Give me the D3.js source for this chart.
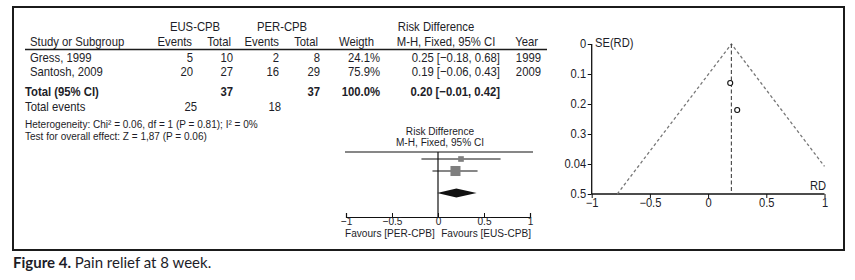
<!DOCTYPE html>
<meta charset="utf-8">
<script src="https://d3js.org/d3.v7.min.js"></script>
<style>
  body { margin: 0; background: #fff; }
  text { font-family: "Liberation Sans", Arial, sans-serif; fill: #1d1d28; }
  .caption { font-family: Lato, "Open Sans", sans-serif; }
</style>
<div class="canvas"></div>
<script>

    // study data
    const studies = ["Gress, 1999", "Santosh, 2009"]
    const eusEvents = [5, 20]
    const eusTotal = [10, 27]
    const perEvents = [2, 16]
    const perTotal = [8, 29]
    const weights = [24.1, 75.9]
    const rd = [0.25, 0.19]
    const ciLow = [-0.18, -0.06]
    const ciHigh = [0.68, 0.43]
    const years = [1999, 2009]
    const seRD = [0.22, 0.13]

    // pooled result
    const pooled = [0.20, -0.01, 0.42]
    const totals = ["37", "37", "100.0%"]
    const totalEvents = [25, 18]

    const forestTicks = [-1, -0.5, 0, 0.5, 1]
    const funnelXTicks = [-1, -0.5, 0, 0.5, 1]
    const funnelYTicks = [0, 0.1, 0.2, 0.3, 0.4, 0.5]
    const funnelYLabels = ["0", "0.1", "0.2", "0.3", "0.04", "0.5"]

    const width = 855
    const height = 280

    const svg = d3.select(".canvas")
                .append("svg")
                .attr("width", width)
                .attr("height", height)

    // frame
    svg.append("rect")
        .attr("x", 13).attr("y", 7)
        .attr("width", 831).attr("height", 243)
        .attr("fill", "none")
        .attr("stroke", "#1b1b1b")
        .attr("stroke-width", 2)

    // text is squeezed a bit to get the narrow look of the original
    const txt = (g, x, y, s, anchor, size, sx, weight = "normal") =>
        g.append("text")
            .attr("transform", `translate(${x},${y}) scale(${sx},1)`)
            .attr("text-anchor", anchor)
            .attr("font-weight", weight)
            .style("font-size", size + "px")
            .text(s)

    const table = svg.append("g")
    const T = (x, y, s, anchor = "start", weight = "normal") => txt(table, x, y, s, anchor, 13, 0.87, weight)

    // headers
    T(195, 31, "EUS-CPB", "middle")
    T(282, 31, "PER-CPB", "middle")
    T(436, 31, "Risk Difference", "middle")
    T(30, 46, "Study or Subgroup")
    T(192, 46, "Events", "end")
    T(231, 46, "Total", "end")
    T(279, 46, "Events", "end")
    T(318, 46, "Total", "end")
    T(374, 46, "Weigth", "end")
    T(446, 46, "M-H, Fixed, 95% CI", "middle")
    T(538, 46, "Year", "end")

    table.append("line")
        .attr("x1", 25).attr("x2", 547)
        .attr("y1", 49.5).attr("y2", 49.5)
        .attr("stroke", "#1b1b1b")
        .attr("stroke-width", 1.3)

    const rowY = d3.scalePoint().domain(studies).range([62, 76])
    const f2 = d3.format(".2f")

    studies.forEach((s, i) => {
        const y = rowY(s)
        T(30, y, s)
        T(193, y, eusEvents[i], "end")
        T(233, y, eusTotal[i], "end")
        T(279, y, perEvents[i], "end")
        T(320, y, perTotal[i], "end")
        T(380, y, weights[i].toFixed(1) + "%", "end")
        T(500, y, `${f2(rd[i])} [${f2(ciLow[i])}, ${f2(ciHigh[i])}]`, "end")
        T(541, y, years[i], "end")
    })

    T(25, 96, "Total (95% CI)", "start", "bold")
    T(233, 96, totals[0], "end", "bold")
    T(320, 96, totals[1], "end", "bold")
    T(380, 96, totals[2], "end", "bold")
    T(500, 96, `${f2(pooled[0])} [${f2(pooled[1])}, ${f2(pooled[2])}]`, "end", "bold")
    T(25, 111, "Total events")
    T(197, 111, totalEvents[0], "end")
    T(281, 111, totalEvents[1], "end")

    txt(table, 25, 128, "Heterogeneity: Chi\u00b2 = 0.06, df = 1 (P = 0.81); I\u00b2 = 0%", "start", 10.8, 0.93)
    txt(table, 25, 140, "Test for overall effect: Z = 1,87 (P = 0.06)", "start", 10.8, 0.93)

    // forest plot
    const fx = d3.scaleLinear().domain([-1, 1]).range([346, 530])
    const forest = svg.append("g")
    const fsF = 11, sxF = 0.92

    txt(forest, 440, 135, "Risk Difference", "middle", fsF, sxF)
    txt(forest, 440, 146, "M-H, Fixed, 95% CI", "middle", fsF, sxF)

    forest.append("line")
        .attr("x1", 345).attr("x2", 533).attr("y1", 152).attr("y2", 152)
        .attr("stroke", "#111").attr("stroke-width", 1.2)
    forest.append("line")
        .attr("x1", fx(0)).attr("x2", fx(0)).attr("y1", 152).attr("y2", 217)
        .attr("stroke", "#111").attr("stroke-width", 1.2)

    const forestY = d3.scalePoint().domain(studies).range([159, 171])
    const boxSize = d3.scaleSqrt().domain([0, 100]).range([0, 11.5])

    studies.forEach((s, i) => {
        const y = forestY(s)
        forest.append("line")
            .attr("x1", fx(ciLow[i])).attr("x2", fx(ciHigh[i]))
            .attr("y1", y).attr("y2", y)
            .attr("stroke", "#111").attr("stroke-width", 1.2)
        const b = boxSize(weights[i])
        forest.append("rect")
            .attr("x", fx(rd[i]) - b / 2).attr("y", y - b / 2)
            .attr("width", b).attr("height", b)
            .attr("fill", "#7f7f7f")
    })

    const dy = 193
    forest.append("path")
        .attr("d", `M${fx(pooled[1])},${dy} L${fx(pooled[0])},${dy - 4.5} L${fx(pooled[2])},${dy} L${fx(pooled[0])},${dy + 4.5} Z`)
        .attr("fill", "#111")

    const gForestAxis = forest.append("g")
        .attr("transform", "translate(0,217)")
        .call(d3.axisBottom(fx).tickValues(forestTicks).tickSize(-4).tickFormat(d3.format("")))
    gForestAxis.select(".domain").attr("stroke", "#111").attr("stroke-width", 1.2)
    gForestAxis.selectAll(".tick line").attr("stroke", "#111")
    gForestAxis.selectAll("text")
        .attr("dy", 0).attr("y", 8)
        .attr("transform", `scale(${sxF},1)`)
        .style("font-size", fsF + "px").style("font-family", null)
        .attr("fill", "#1d1d40")

    txt(forest, 345, 236.5, "Favours [PER-CPB]", "start", fsF, sxF).attr("fill", "#3a2340")
    txt(forest, 531, 236.5, "Favours [EUS-CPB]", "end", fsF, sxF).attr("fill", "#3a2340")

    // funnel plot
    const ux = d3.scaleLinear().domain([-1, 1]).range([591.7, 824.5])
    const uy = d3.scaleLinear().domain([0, 0.5]).range([44, 194])
    const funnel = svg.append("g")
    const fsU = 12, sxU = 0.93

    const gFx = funnel.append("g")
        .attr("transform", "translate(0,194)")
        .call(d3.axisBottom(ux).tickValues(funnelXTicks).tickSize(4).tickFormat(d3.format("")))
    const gFy = funnel.append("g")
        .attr("transform", "translate(591.7,0)")
        .call(d3.axisLeft(uy).tickValues(funnelYTicks).tickSize(4)
            .tickFormat((d, i) => funnelYLabels[i]))

    ;[gFx, gFy].forEach(g => {
        g.select(".domain").attr("stroke", "#111").attr("stroke-width", 1.3)
        g.selectAll(".tick line").attr("stroke", "#111")
        g.selectAll("text")
            .attr("transform", `scale(${sxU},1)`)
            .style("font-size", fsU + "px").style("font-family", null).attr("fill", "#1d1d40")
    })
    gFx.select(".domain").attr("d", `M${ux(-1)},0H${ux(1)}`)
    gFy.select(".domain").attr("d", `M0,${uy(0)}V${uy(0.5)}`)
    gFx.selectAll("text").attr("dy", 0).attr("y", 13)
    gFy.selectAll("text").attr("x", -6)

    txt(funnel, 595, 47, "SE(RD)", "start", fsU, sxU)
    txt(funnel, 826, 190, "RD", "end", fsU, sxU)

    const p = pooled[0]
    const leftEnd = 0.5
    const rightEnd = (1 - p) / 1.96
    funnel.append("path")
        .attr("d", `M${ux(p - 1.96 * leftEnd)},${uy(leftEnd)} L${ux(p)},${uy(0)} L${ux(p + 1.96 * rightEnd)},${uy(rightEnd)}`)
        .attr("fill", "none")
        .attr("stroke", "#777")
        .attr("stroke-width", 1.3)
        .attr("stroke-dasharray", "3,2.5")
    funnel.append("line")
        .attr("x1", ux(p)).attr("x2", ux(p))
        .attr("y1", uy(0)).attr("y2", uy(0.5))
        .attr("stroke", "#444")
        .attr("stroke-width", 1.1)
        .attr("stroke-dasharray", "4,2.5")

    funnel.selectAll("circle")
        .data(rd)
        .enter()
        .append("circle")
        .attr("cx", d => ux(d))
        .attr("cy", (d, i) => uy(seRD[i]))
        .attr("r", 2.5)
        .attr("fill", "#fff")
        .attr("stroke", "#111")
        .attr("stroke-width", 1.1)

    // caption
    const cap = svg.append("text")
        .attr("class", "caption")
        .attr("x", 13).attr("y", 268)
        .style("font-size", "15px")
        .attr("fill", "#1a1a2a")
    cap.append("tspan").attr("font-weight", "bold").text("Figure 4.")
    cap.append("tspan").text(" Pain relief at 8 week.")

</script>
